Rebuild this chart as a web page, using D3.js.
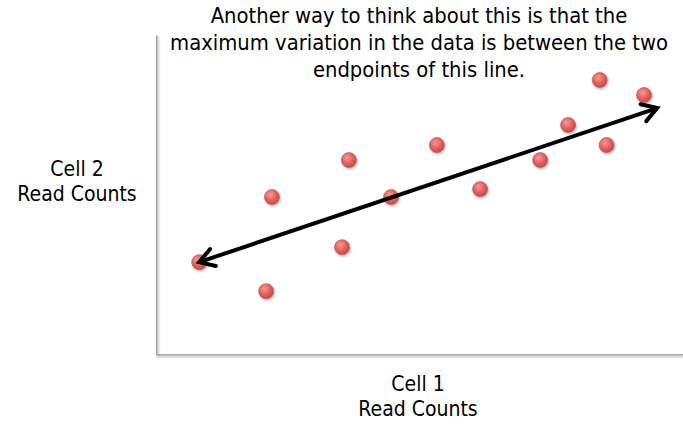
<!DOCTYPE html>
<html><head><meta charset="utf-8">
<script src="https://cdn.jsdelivr.net/npm/d3@7"></script>
<style>html,body{margin:0;padding:0;background:#fff;} svg{display:block;}</style>
</head><body>
<svg id="c" width="683" height="424"></svg>
<script>
const xValues = [0.82, 2.09, 2.20, 3.53, 3.66, 4.46, 5.33, 6.15, 7.29, 7.82, 8.42, 8.55, 9.26];
const yValues = [2.88, 1.97, 4.92, 3.35, 6.08, 4.92, 6.55, 5.17, 6.08, 7.18, 8.59, 6.55, 8.12];
const arrowStart = [0.82, 2.88];
const arrowEnd = [9.51, 7.71];
const titleLines = ["Another way to think about this is that the", "maximum variation in the data is between the two", "endpoints of this line."];
const xLabelLines = ["Cell 1", "Read Counts"];
const yLabelLines = ["Cell 2", "Read Counts"];

const svg = d3.select("#c");
const x = d3.scaleLinear().domain([0, 10]).range([156, 683]);
const y = d3.scaleLinear().domain([0, 10]).range([354, 35]);
const font = "'DejaVu Sans Condensed', 'DejaVu Sans', sans-serif";

const defs = svg.append("defs");
const g = defs.append("radialGradient").attr("id","dot").attr("cx","40%").attr("cy","35%").attr("r","65%");
g.append("stop").attr("offset","0%").attr("stop-color","#f29a98");
g.append("stop").attr("offset","60%").attr("stop-color","#e0605e");
g.append("stop").attr("offset","100%").attr("stop-color","#cc4a48");
const f = defs.append("filter").attr("id","sh").attr("x","-20%").attr("y","-20%").attr("width","150%").attr("height","150%");
f.append("feDropShadow").attr("dx",1).attr("dy",1.5).attr("stdDeviation",1).attr("flood-color","#000").attr("flood-opacity",0.3);
const fa = defs.append("filter").attr("id","sha").attr("filterUnits","userSpaceOnUse")
  .attr("x",0).attr("y",0).attr("width",683).attr("height",424);
fa.append("feDropShadow").attr("dx",1).attr("dy",1.5).attr("stdDeviation",1).attr("flood-color","#000").attr("flood-opacity",0.3);

// axes
const axL = svg.append("g").attr("transform",`translate(${x(0)},0)`).attr("filter","url(#sha)")
  .call(d3.axisLeft(y).ticks(0).tickSizeOuter(0));
axL.select(".domain").attr("stroke","#a6a6a6").attr("stroke-width",2);
const axB = svg.append("g").attr("transform",`translate(0,${y(0)})`).attr("filter","url(#sha)")
  .call(d3.axisBottom(x).ticks(0).tickSizeOuter(0));
axB.select(".domain").attr("stroke","#a6a6a6").attr("stroke-width",2);

// points
svg.append("g").selectAll("circle").data(xValues.map((v,i)=>[v,yValues[i]])).join("circle")
  .attr("cx",d=>x(d[0])).attr("cy",d=>y(d[1])).attr("r",7.5)
  .attr("fill","url(#dot)").attr("stroke","#c04a48").attr("stroke-width",0.6)
  .attr("filter","url(#sh)");

// arrow
const x1 = x(arrowStart[0]), y1 = y(arrowStart[1]), x2 = x(arrowEnd[0]), y2 = y(arrowEnd[1]);
svg.append("line").attr("x1",x1).attr("y1",y1).attr("x2",x2).attr("y2",y2)
  .attr("stroke","#000").attr("stroke-width",4);
function head(px,py,ang){
  const L = 17, a = 0.55;
  const p1 = [px - L*Math.cos(ang - a), py - L*Math.sin(ang - a)];
  const p2 = [px - L*Math.cos(ang + a), py - L*Math.sin(ang + a)];
  svg.append("path").attr("d",`M${p1[0]},${p1[1]}L${px},${py}L${p2[0]},${p2[1]}`)
    .attr("fill","none").attr("stroke","#000").attr("stroke-width",4)
    .attr("stroke-linecap","round").attr("stroke-linejoin","miter");
}
const ang = Math.atan2(y2-y1, x2-x1);
head(x2,y2,ang);
head(x1,y1,ang+Math.PI);

// title
svg.append("text").attr("x",420).attr("y",23).attr("text-anchor","middle")
  .attr("font-family",font).attr("font-size",21.8).attr("fill","#000")
  .selectAll("tspan").data(titleLines).join("tspan").attr("x",419).attr("dy",(d,i)=>i?27:0).text(d=>d);

svg.append("text").attr("text-anchor","middle").attr("font-family",font).attr("font-size",21)
  .selectAll("tspan").data(yLabelLines).join("tspan").attr("x",77).attr("y",(d,i)=>176+i*25).text(d=>d);
svg.append("text").attr("text-anchor","middle").attr("font-family",font).attr("font-size",21)
  .selectAll("tspan").data(xLabelLines).join("tspan").attr("x",418).attr("y",(d,i)=>391+i*25).text(d=>d);
</script>
</body></html>
